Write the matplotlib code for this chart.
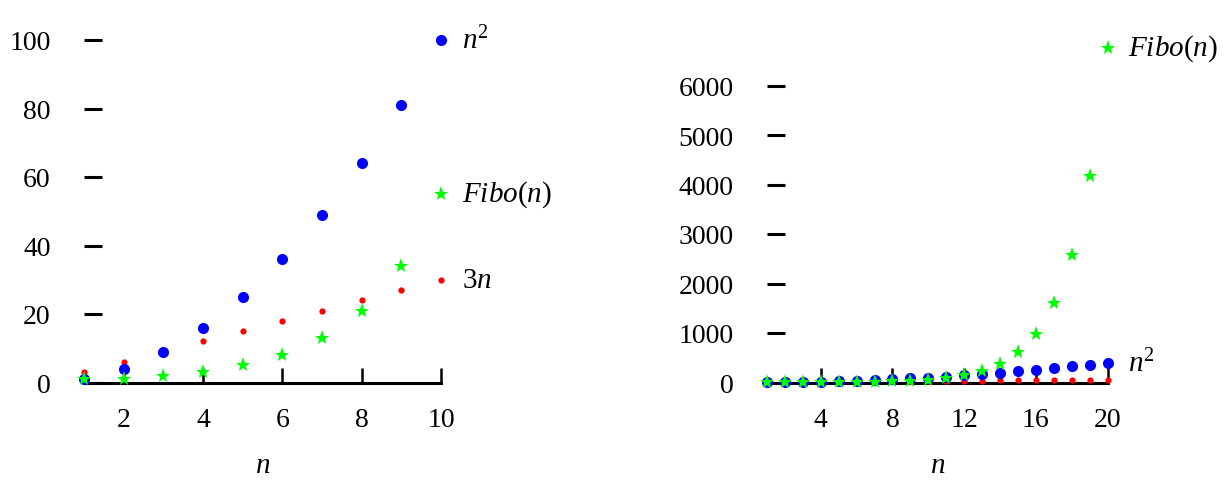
import matplotlib
matplotlib.use("Agg")
import matplotlib.pyplot as plt

plt.rcParams['font.family'] = ['Liberation Serif', 'DejaVu Serif']
plt.rcParams['mathtext.fontset'] = 'custom'
plt.rcParams['mathtext.it'] = 'Liberation Serif:italic'
plt.rcParams['mathtext.rm'] = 'Liberation Serif'

# left panel data, n = 1..10
n_small = [1, 2, 3, 4, 5, 6, 7, 8, 9, 10]
sq_small = [1, 4, 9, 16, 25, 36, 49, 64, 81, 100]
three_small = [3, 6, 9, 12, 15, 18, 21, 24, 27, 30]
fibo_small = [1, 1, 2, 3, 5, 8, 13, 21, 34, 55]
xticks_small = [2, 4, 6, 8, 10]
yticks_small = [0, 20, 40, 60, 80, 100]

# right panel data, n = 1..20
n_big = [1, 2, 3, 4, 5, 6, 7, 8, 9, 10, 11, 12, 13, 14, 15, 16, 17, 18, 19, 20]
sq_big = [1, 4, 9, 16, 25, 36, 49, 64, 81, 100, 121, 144, 169, 196, 225,
          256, 289, 324, 361, 400]
three_big = [3, 6, 9, 12, 15, 18, 21, 24, 27, 30, 33, 36, 39, 42, 45,
             48, 51, 54, 57, 60]
fibo_big = [1, 1, 2, 3, 5, 8, 13, 21, 34, 55, 89, 144, 233, 377, 610,
            987, 1597, 2584, 4181, 6765]
xticks_big = [4, 8, 12, 16, 20]
yticks_big = [0, 1000, 2000, 3000, 4000, 5000, 6000]

W, H = 1227, 481
fig = plt.figure(figsize=(W / 100, H / 100), dpi=100)

def make_axes(px_left, px_right, px_bottom, px_top):
    return fig.add_axes([px_left / W, (H - px_bottom) / H,
                         (px_right - px_left) / W, (px_bottom - px_top) / H])

def style(ax, n, xticks, yticks):
    ax.set_xlim(n[0], n[-1])
    ax.set_ylim(yticks[0], yticks[-1])
    for s in ['top', 'right', 'left']:
        ax.spines[s].set_visible(False)
    ax.spines['bottom'].set_position(('data', 0))
    ax.spines['bottom'].set_bounds(n[0], n[-1])
    ax.spines['bottom'].set_linewidth(2.2)
    ax.spines['bottom'].set_capstyle('projecting')
    ax.set_xticks(xticks)
    ax.set_yticks(yticks)
    ax.tick_params(axis='y', direction='in', length=13, width=2.2, pad=24, labelsize=20)
    ax.tick_params(axis='x', direction='in', length=11, width=1.8, pad=18, labelsize=20)
    ax.set_xlabel(r'$n$', fontsize=21, labelpad=14)

def points(ax, n, sq, three, fibo):
    ax.plot(n, three, 'o', color='#ff0000', ms=4.5, mew=0, clip_on=False, zorder=3)
    ax.plot(n, sq, 'o', color='#0000ff', ms=8, mew=0, clip_on=False, zorder=4)
    ax.plot(n, fibo, '*', color='#00ff00', ms=11, mew=0, clip_on=False, zorder=5)

def tag(ax, x, y, txt):
    ax.annotate(txt, xy=(x, y), xytext=(15, 0), textcoords='offset points',
                va='center', ha='left', fontsize=21, annotation_clip=False)

ax1 = make_axes(84, 441, 383.5, 41)
style(ax1, n_small, xticks_small, yticks_small)
points(ax1, n_small, sq_small, three_small, fibo_small)
tag(ax1, n_small[-1], sq_small[-1], r'$n^2$')
tag(ax1, n_small[-1], fibo_small[-1], r'$Fibo(n)$')
tag(ax1, n_small[-1], three_small[-1], r'$3n$')

ax2 = make_axes(767, 1107.5, 383.5, 86.5)
style(ax2, n_big, xticks_big, yticks_big)
points(ax2, n_big, sq_big, three_big, fibo_big)
tag(ax2, n_big[-1], sq_big[-1], r'$n^2$')
tag(ax2, n_big[-1], fibo_big[-1], r'$Fibo(n)$')

fig.savefig('out.png', dpi=100)
